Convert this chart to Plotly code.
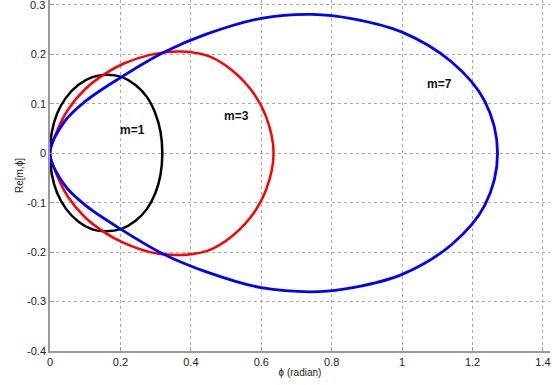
import plotly.graph_objects as go

# ---- data (phi in radian, Re[m,phi]) ----
# m=1: traced from the right end, over the top to the origin, then along the bottom back
m1_phi = [0.319, 0.314, 0.299, 0.275, 0.243, 0.205, 0.163, 0.12, 0.08, 0.045, 0.02, 0.005, 0,
          0.005, 0.02, 0.045, 0.08, 0.12, 0.16, 0.203, 0.242, 0.275, 0.299, 0.314, 0.319]
m1_re = [0, 0.043, 0.081, 0.114, 0.138, 0.154, 0.159, 0.154, 0.138, 0.112, 0.08, 0.042, 0,
         -0.042, -0.08, -0.112, -0.138, -0.154, -0.158, -0.153, -0.137, -0.113, -0.081, -0.043, 0]

# m=3: traced from the origin along the bottom, round the right end and back over the top
m3_phi = [0, 0.016, 0.05, 0.1, 0.157, 0.208, 0.284, 0.36, 0.444, 0.5, 0.568, 0.613, 0.635,
          0.613, 0.568, 0.5, 0.444, 0.369, 0.284, 0.208, 0.157, 0.1, 0.05, 0.016, 0]
m3_re = [0, -0.038, -0.087, -0.13, -0.161, -0.181, -0.2, -0.206, -0.198, -0.177, -0.131, -0.075, 0,
         0.075, 0.131, 0.177, 0.198, 0.206, 0.199, 0.181, 0.161, 0.13, 0.087, 0.038, 0]

# m=7: same order as m=3
m7_phi = [0, 0.04, 0.1, 0.2, 0.322, 0.444, 0.6, 0.764, 0.86, 1.0, 1.14, 1.235, 1.271,
          1.235, 1.14, 1.0, 0.86, 0.745, 0.6, 0.444, 0.322, 0.2, 0.1, 0.04, 0]
m7_re = [0, -0.063, -0.105, -0.153, -0.204, -0.24, -0.272, -0.28, -0.272, -0.245, -0.185, -0.105, 0,
         0.105, 0.185, 0.245, 0.272, 0.281, 0.273, 0.241, 0.204, 0.153, 0.105, 0.063, 0]

labels = ["m=1", "m=3", "m=7"]
label_phi = [0.235, 0.531, 1.105]
label_re = [0.047, 0.076, 0.141]

x_ticks = [0, 0.2, 0.4, 0.6, 0.8, 1.0, 1.2, 1.4]
x_ticktext = ["0", "0.2", "0.4", "0.6", "0.8", "1", "1.2", "1.4"]
y_ticks = [-0.4, -0.3, -0.2, -0.1, 0, 0.1, 0.2, 0.3]
y_ticktext = ["-0.4", "-0.3", "-0.2", "-0.1", "0", "0.1", "0.2", "0.3"]

tick_font = dict(size=11, color="#222", family="Liberation Sans")

fig = go.Figure()
curves = [
    (m1_phi, m1_re, "black", 2.5),
    (m3_phi, m3_re, "#ff0000", 2.5),
    (m7_phi, m7_re, "#0000ff", 2.8),
]
for xs, ys, col, w in curves:
    fig.add_trace(go.Scatter(
        x=xs, y=ys, mode="lines",
        line=dict(color=col, width=w, shape="spline", smoothing=1.0),
        showlegend=False, hoverinfo="skip"))

for t, xx, yy in zip(labels, label_phi, label_re):
    fig.add_annotation(x=xx, y=yy, text="<b>%s</b>" % t, showarrow=False,
                       font=dict(size=12, color="#111", family="Liberation Sans"))

# top y tick label (plotly drops it because it touches the page edge)
fig.add_annotation(x=0, y=y_ticks[-1], xref="x", yref="y", text=y_ticktext[-1], showarrow=False,
                   xanchor="right", yanchor="middle", xshift=-3, font=tick_font)

axis_common = dict(
    showgrid=True, gridcolor="#a8a8a8", griddash="dot", gridwidth=1,
    zeroline=False, showline=True, linecolor="#9a9a9a", linewidth=1.5,
    ticks="inside", ticklen=4, tickcolor="#9a9a9a",
    tickfont=tick_font,
)
fig.update_xaxes(range=[0, 1.42], tickvals=x_ticks, ticktext=x_ticktext,
                 title=dict(text="ϕ (radian)", font=dict(size=10, color="#222", family="Liberation Sans"), standoff=2),
                 **axis_common)
fig.update_yaxes(range=[-0.4, 0.31], tickvals=y_ticks, ticktext=y_ticktext,
                 title=dict(text="Re[m,ϕ]", font=dict(size=10, color="#222", family="Liberation Sans"), standoff=2),
                 **axis_common)

fig.update_layout(
    width=553, height=385,
    margin=dict(l=50, r=3, t=0, b=34),
    paper_bgcolor="white", plot_bgcolor="white",
)
fig.write_html("out.html")
